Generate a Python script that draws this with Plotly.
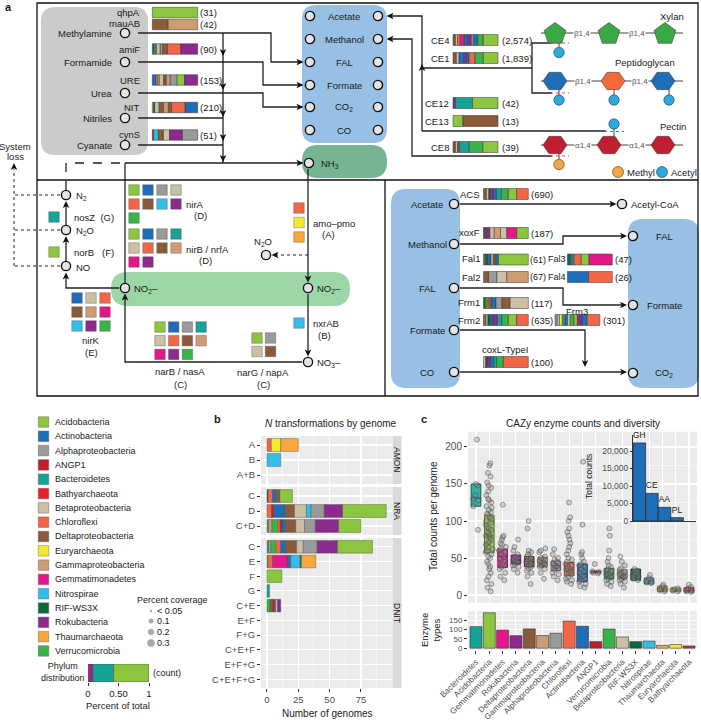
import math
import plotly.graph_objects as go

FIG_W, FIG_H = 701, 722
FONT = "Liberation Sans, Arial, Helvetica, sans-serif"
INK = "#1a1a1a"
TICK_TXT = "#4d4d4d"

# ---------------- data: phyla ----------------
phyla = ["Acidobacteria", "Actinobacteria", "Alphaproteobacteria", "ANGP1", "Bacteroidetes",
         "Bathyarchaeota", "Betaproteobacteria", "Chloroflexi", "Deltaproteobacteria",
         "Euryarchaeota", "Gammaproteobacteria", "Gemmatimonadetes", "Nitrospirae",
         "RIF-WS3X", "Rokubacteria", "Thaumarchaeota", "Verrucomicrobia"]
phylum_codes = ["Aci", "Act", "Alp", "ANG", "Bac", "Bat", "Bet", "Chl", "Del",
                "Eur", "Gam", "Gem", "Nit", "RIF", "Rok", "Tha", "Ver"]
phylum_colors = ["#8cc63f", "#1f6db6", "#9a9a9a", "#be1e2d", "#16a397", "#e8202a",
                 "#cbbfa6", "#f26645", "#8a5a3b", "#f4e830", "#cd9c72", "#e5168b",
                 "#35bde9", "#0a6b3a", "#8d2a8e", "#f8a73d", "#39b349"]

# ---------------- data: panel a, organic N genes ----------------
org_n_genes = ["qhpA", "mauAB", "amiF", "URE", "NIT", "cynS"]
org_n_counts = [31, 42, 90, 153, 210, 51]
org_n_mix = [
    [("Aci", 1.0)],
    [("Del", 0.35), ("Gam", 0.65)],
    [("Act", 0.04), ("Eur", 0.02), ("Ver", 0.03), ("Bet", 0.08), ("Alp", 0.06), ("Del", 0.10), ("Chl", 0.30), ("Rok", 0.37)],
    [("Act", 0.08), ("Alp", 0.04), ("Tha", 0.03), ("Bet", 0.10), ("Del", 0.06), ("Gam", 0.08), ("Alp", 0.15), ("Aci", 0.17), ("Rok", 0.29)],
    [("Aci", 0.03), ("RIF", 0.02), ("Bet", 0.10), ("Del", 0.10), ("Gam", 0.10), ("Del", 0.07), ("Chl", 0.30), ("Act", 0.28)],
    [("ANG", 0.03), ("Nit", 0.10), ("Del", 0.11), ("Bet", 0.14), ("Rok", 0.28), ("Alp", 0.34)],
]
substrates = ["Methylamine", "Formamide", "Urea", "Nitriles", "Cyanate"]

# ---------------- data: panel a, carbohydrate esterases ----------------
ce_genes = ["CE4", "CE1", "CE12", "CE13", "CE8"]
ce_counts = [2574, 1839, 42, 13, 39]
ce_mix = [
    [("Del", .05), ("Bet", .05), ("Chl", .06), ("Gem", .08), ("Act", .08), ("Rok", .08), ("Alp", .05), ("Act", .10), ("Ver", .12), ("Aci", .33)],
    [("Del", .07), ("Bet", .06), ("Act", .12), ("Rok", .05), ("Act", .06), ("Chl", .13), ("Ver", .18), ("Aci", .33)],
    [("Rok", .05), ("Bac", .38), ("Aci", .57)],
    [("Aci", .22), ("Del", .78)],
    [("Del", .05), ("Bet", .05), ("Del", .04), ("Bac", .22), ("Ver", .30), ("Aci", .34)],
]
pool_metabolites = ["Acetate", "Methanol", "FAL", "Formate", "CO<sub>2</sub>", "CO"]

# ---------------- data: panel a, C1 genes ----------------
c1_genes = ["ACS", "xoxF", "Fal1", "Fal2", "Fal3", "Fal4", "Frm1", "Frm2", "Frm3", "coxL-TypeI"]
c1_counts = [690, 187, 61, 67, 47, 26, 117, 635, 301, 100]
c1_mix = [
    [("Del", .06), ("Bet", .06), ("RIF", .03), ("Rok", .07), ("Act", .07), ("Bac", .11), ("Ver", .15), ("Aci", .19), ("Chl", .26)],
    [("RIF", .03), ("Del", .04), ("Rok", .07), ("Bet", .10), ("Gam", .14), ("Bet", .14), ("Gem", .22), ("Aci", .26)],
    [("Del", .05), ("RIF", .04), ("Act", .08), ("Bet", .05), ("Del", .05), ("Act", .06), ("Aci", .67)],
    [("Del", .11), ("Alp", .19), ("Bet", .22), ("Gam", .48)],
    [("RIF", .03), ("Act", .05), ("Bac", .04), ("Alp", .03), ("Chl", .15), ("Aci", .18), ("Gem", .52)],
    [("Act", .47), ("Chl", .53)],
    [("RIF", .04), ("Ver", .04), ("Tha", .03), ("Chl", .04), ("Del", .03), ("Act", .10), ("Alp", .13), ("Del", .18), ("Bet", .41)],
    [("Del", .05), ("Bet", .05), ("RIF", .04), ("Act", .07), ("Rok", .10), ("Bac", .10), ("Ver", .14), ("Aci", .19), ("Chl", .26)],
    [("Alp", .05), ("Bet", .05), ("Eur", .06), ("Bac", .06), ("Act", .06), ("Bet", .06), ("Ver", .08), ("Aci", .08), ("Rok", .10), ("Act", .12), ("Chl", .28)],
    [("Bet", .05), ("RIF", .04), ("Rok", .06), ("Act", .08), ("Bac", .06), ("Ver", .15), ("Chl", .56)],
]

# ---------------- data: panel a, nitrogen-cycle genes (phyla carrying them) ----------------
nirA_phyla = ["Aci", "Act", "Alp", "Bet", "Chl", "Del", "Nit", "Rok", "Ver"]
nirB_phyla = ["Aci", "Act", "Alp", "Bac", "Bet", "Chl", "Del", "Gam", "Gem", "Rok"]
nirK_phyla = ["Act", "Bet", "Chl", "Del", "Gam", "Gem", "Nit", "Rok", "Ver"]
narB_phyla = ["Aci", "Act", "Alp", "Bac", "Bet", "Chl", "Del", "Gam", "Gem", "Rok", "Ver"]
narG_phyla = ["Aci", "Alp", "Bet", "Del"]
nxrAB_phyla = ["Nit"]
amo_phyla = ["Chl", "Eur", "Tha"]
nosZ_phyla = ["Bac"]
norB_phyla = ["Aci"]

# ---------------- data: legend / phylum distribution ----------------
dist_phyla = ["Gem", "Rok", "Bac", "Aci"]
dist_frac = [0.03, 0.05, 0.34, 0.58]
coverage_levels = ["< 0.05", "0.1", "0.2", "0.3"]

# ---------------- data: panel b ----------------
amon_cats = ["A", "B", "A+B"]
amon_bars = [[("Chl", 3.5), ("Eur", 7.5), ("Tha", 14.0)], [("Nit", 11.0)], []]
nra_cats = ["C", "D", "C+D"]
nra_bars = [
    [("RIF", 1.0), ("Chl", 3.5), ("Act", 3.0), ("Del", 2.8), ("Aci", 10.0)],
    [("Chl", 3.7), ("ANG", 1.6), ("Act", 9.2), ("Del", 7.5), ("Bet", 9.5), ("Nit", 3.7), ("Alp", 10.5), ("Rok", 14.5), ("Aci", 35.0)],
    [("Bac", 1.3), ("Gam", 2.7), ("Ver", 4.5), ("Chl", 2.0), ("ANG", 1.5), ("Act", 3.0), ("Del", 8.0), ("Bet", 7.0), ("Alp", 8.6), ("Rok", 18.4), ("Aci", 18.0)],
]
dnit_cats = ["C", "E", "F", "G", "C+E", "E+F", "F+G", "C+E+F", "E+F+G", "C+E+F+G"]
dnit_bars = [
    [("Bac", 1.5), ("Gam", 1.5), ("Ver", 4.0), ("Chl", 4.0), ("Act", 4.0), ("Del", 8.7), ("Bet", 5.3), ("Alp", 11.0), ("Rok", 16.3), ("Aci", 27.9)],
    [("Ver", 1.0), ("Chl", 3.5), ("Gem", 11.0), ("Rok", 1.5), ("Act", 2.0), ("Nit", 7.5), ("RIF", 1.0), ("Tha", 11.5)],
    [("Aci", 12.0)],
    [("Bac", 2.0)],
    [("Ver", 2.5), ("Del", 2.0), ("ANG", 1.5), ("Act", 1.0), ("Bet", 1.5), ("Rok", 2.5)],
    [], [], [], [], [],
]
facet_names = ["AMON", "NRA", "DNIT"]

# ---------------- data: panel c ----------------
cazy_phyla = ["Bacteroidetes", "Acidobacteria", "Gemmatimonadetes", "Rokubacteria",
              "Deltaproteobacteria", "Gammaproteobacteria", "Alphaproteobacteria", "Chloroflexi",
              "Actinobacteria", "ANGP1", "Verrucomicrobia", "Betaproteobacteria", "RIF-WS3X",
              "Nitrospirae", "Thaumarchaeota", "Euryarchaeota", "Bathyarchaeota"]
cazy_q1 = [120, 57, 37, 42, 38, 38, 33, 26, 18, 30, 22, 22, 20, 15, 5, 5, 4]
cazy_median = [131, 80, 52, 47, 45, 44, 40, 35, 28, 31, 29, 28, 27, 19, 8, 7, 6]
cazy_q3 = [150, 108, 62, 54, 52, 51, 46, 44, 42, 32.5, 36, 34, 35, 23, 12, 9, 10]
cazy_genome_counts = [
    [210, 150, 148, 135, 130, 128, 120, 88],
    [178, 175, 165, 160, 152, 148, 145, 140, 135, 130, 128, 125, 120, 118, 115, 112, 110, 108, 105,
     102, 100, 98, 95, 92, 90, 88, 85, 82, 80, 80, 78, 75, 72, 70, 68, 65, 62, 60, 58, 55, 52, 50,
     45, 42, 38, 35, 30, 25, 20, 15, 10, 5],
    [122, 80, 78, 75, 70, 68, 65, 62, 60, 58, 55, 52, 50, 48, 45, 42, 40, 38, 35, 30, 25, 20],
    [75, 65, 60, 55, 52, 50, 48, 47, 46, 45, 44, 42, 40, 38, 35, 30],
    [100, 90, 60, 58, 55, 52, 50, 48, 46, 45, 44, 42, 40, 38, 36, 33, 30, 25, 15],
    [63, 60, 58, 52, 50, 48, 46, 45, 44, 43, 42, 40, 38, 35, 30, 22],
    [62, 55, 50, 48, 45, 42, 40, 39, 38, 36, 34, 30, 28, 25, 20],
    [125, 105, 100, 90, 85, 80, 75, 70, 65, 60, 55, 50, 48, 45, 42, 40, 38, 36, 35, 34, 32, 30, 28, 25, 22, 20, 18, 15],
    [180, 95, 58, 55, 50, 45, 42, 40, 38, 35, 32, 30, 28, 26, 25, 22, 20, 18, 15, 12, 10],
    [42, 32, 31, 30, 29],
    [90, 80, 60, 50, 45, 40, 38, 35, 33, 32, 30, 29, 28, 27, 26, 25, 24, 22, 20, 18, 15, 12],
    [52, 45, 40, 36, 34, 32, 30, 29, 28, 27, 26, 25, 24, 22, 20, 18, 15, 10],
    [35, 33, 30, 28, 27, 26, 25, 22, 20],
    [27, 23, 21, 20, 19, 18, 17, 16],
    [14, 12, 10, 9, 8, 7, 6, 5],
    [9, 8, 7, 7, 6, 5],
    [14, 11, 9, 7, 6, 5, 4],
]
enzyme_types = [115, 189, 97, 67, 103, 68, 80, 145, 117, 35, 102, 60, 35, 38, 15, 20, 12]
cazy_classes = ["GH", "CE", "AA", "PL"]
cazy_class_totals = [22300, 7900, 3900, 950]

# =====================================================================
COLOR = dict(zip(phylum_codes, phylum_colors))
NAME2COLOR = dict(zip(phyla, phylum_colors))

shapes, annos, traces = [], [], []


def T(x, y, s, size=9.5, xa="center", ya="middle", color=INK, angle=0, bg=None):
    d = dict(x=x, y=y, xref="x", yref="y", text=s, showarrow=False,
             xanchor=xa, yanchor=ya, font=dict(family=FONT, size=size, color=color),
             textangle=angle, borderpad=0)
    if bg:
        d["bgcolor"] = bg
    annos.append(d)


def L(pts, w=1.3, color="#222", dash=None):
    path = "M" + " L".join(f"{x:.1f},{y:.1f}" for x, y in pts)
    ln = dict(color=color, width=w)
    if dash:
        ln["dash"] = dash
    shapes.append(dict(type="path", path=path, xref="x", yref="y", line=ln, layer="above"))


def AH(x, y, d, ln=7.0, w=3.3, color="#111"):
    if d == "r":
        pts = [(x, y), (x - ln, y - w), (x - ln * 0.75, y), (x - ln, y + w)]
    elif d == "l":
        pts = [(x, y), (x + ln, y - w), (x + ln * 0.75, y), (x + ln, y + w)]
    elif d == "u":
        pts = [(x, y), (x - w, y + ln), (x, y + ln * 0.75), (x + w, y + ln)]
    else:
        pts = [(x, y), (x - w, y - ln), (x, y - ln * 0.75), (x + w, y - ln)]
    path = "M" + " L".join(f"{a:.1f},{b:.1f}" for a, b in pts) + " Z"
    shapes.append(dict(type="path", path=path, xref="x", yref="y", fillcolor=color,
                       line=dict(width=0), layer="above"))


def CIRC(x, y, r=4.6, fill="#e4e4e4", lc="#111", lw=1.4):
    shapes.append(dict(type="circle", x0=x - r, x1=x + r, y0=y - r, y1=y + r, xref="x", yref="y",
                       fillcolor=fill, line=dict(color=lc, width=lw), layer="above"))


def RR(x0, y0, x1, y1, r, color, layer="below"):
    p = (f"M{x0 + r},{y0} L{x1 - r},{y0} Q{x1},{y0} {x1},{y0 + r} L{x1},{y1 - r} "
         f"Q{x1},{y1} {x1 - r},{y1} L{x0 + r},{y1} Q{x0},{y1} {x0},{y1 - r} L{x0},{y0 + r} "
         f"Q{x0},{y0} {x0 + r},{y0} Z")
    shapes.append(dict(type="path", path=p, xref="x", yref="y", fillcolor=color,
                       line=dict(width=0), layer=layer))


def POLY(pts, fill, lc="#444", lw=0.6):
    path = "M" + " L".join(f"{a:.2f},{b:.2f}" for a, b in pts) + " Z"
    shapes.append(dict(type="path", path=path, xref="x", yref="y", fillcolor=fill,
                       line=dict(color=lc, width=lw), layer="above"))


# ---------- stacked composition bars (panel a) ----------
seg_store = {c: dict(x=[], base=[], y=[], w=[]) for c in phylum_codes}


def stack_bar(mix, x0, yc, width_px, h):
    tot = sum(f for _, f in mix)
    cum = 0.0
    for code, f in mix:
        s = seg_store[code]
        s["x"].append(f / tot * width_px)
        s["base"].append(x0 + cum / tot * width_px)
        s["y"].append(yc)
        s["w"].append(h)
        cum += f


# ---------- squares ----------
sq_x, sq_y, sq_c = [], [], []


def grid(codes, x0, y0, ncol, step=14.0):
    for i, c in enumerate(codes):
        sq_x.append(x0 + (i % ncol) * step)
        sq_y.append(y0 + (i // ncol) * step)
        sq_c.append(COLOR[c])


# =================== PANEL A frame ===================
T(4, 7, "<b>a</b>", size=11, xa="left")
shapes.append(dict(type="rect", x0=37, x1=698, y0=3, y1=396, xref="x", yref="y",
                   line=dict(color="#111", width=1.3), layer="above"))
L([(37, 180), (698, 180)], color="#111")
L([(385, 180), (385, 396)], color="#111")

# ---- top left: organic N ----
RR(41, 7, 148, 155, 14, "#cbcbcb")
sub_y = [33, 62, 93, 118, 145]
for name, y in zip(substrates, sub_y):
    T(113, y, name, xa="right")
    CIRC(125, y)
gene_label_y = [12, 23.5, 49, 80, 107, 134]
bar_y_top = [12.5, 24.5, 49, 80, 107.5, 135]
for g, ly, by, n, mix in zip(org_n_genes, gene_label_y, bar_y_top, org_n_counts, org_n_mix):
    T(141, ly, g, xa="right")
    stack_bar(mix, 152.3, by, 45.4, 10.5)
    T(199, by, f"({n:,})", xa="left")

# lines into the pool
L([(138, 33), (271, 33), (271, 62), (302, 62)]); AH(303.5, 62, "r")
L([(138, 62), (263, 62), (263, 85), (302, 85)]); AH(303.5, 85, "r")
L([(138, 93), (263, 93), (263, 107), (302, 107)]); AH(303.5, 107, "r")
L([(138, 118), (223, 118)])
L([(138, 145), (223, 145)])
L([(223, 33), (223, 163)])
for ty in [56, 90, 117, 141]:
    AH(223, ty, "d")
L([(125, 163), (302, 163)]); AH(303.5, 163, "r")
AH(223, 162, "d")
L([(125, 163), (125, 283)])
L([(66, 190), (66, 163), (125, 163)], dash="dash", w=1.3)

# ---- pool box ----
RR(302, 5, 387, 143, 14, "#97c0e4")
pool_y = [16, 39, 62, 85, 107, 130]
for name, y in zip(pool_metabolites, pool_y):
    T(344, y, name)
    CIRC(310, y)
    CIRC(378, y)
RR(302, 145, 387, 178, 16, "#77b592")
CIRC(309, 163)
T(320, 164, "NH<sub>3</sub>", xa="left")

# ---- CE bars ----
ce_y = [40, 58, 103, 121, 147]
for g, y, n, mix in zip(ce_genes, ce_y, ce_counts, ce_mix):
    T(450, y, g, xa="right")
    stack_bar(mix, 453, y, 45, 11)
    T(501, y, f"({n:,})", xa="left")

L([(422, 131), (422, 16), (388, 16)]); AH(386.5, 16, "l")
AH(422, 64, "u")
L([(422, 68), (532, 68)])
L([(552, 43), (532, 43), (532, 93), (552, 93)])
L([(422, 131), (606, 131)])
L([(552, 156), (412, 156), (412, 39), (388, 39)]); AH(386.5, 39, "l")


# ---- polysaccharides ----
def pentagon(cx, cy, r=11.5):
    return [(cx + r * math.cos(math.radians(-90 + 72 * k)), cy + r * math.sin(math.radians(-90 + 72 * k))) for k in range(5)]


def hexagon(cx, cy, rx=12.0, ry=10.0):
    return [(cx + rx * math.cos(math.radians(60 * k)), cy + ry * math.sin(math.radians(60 * k))) for k in range(6)]


# xylan
L([(541, 33), (683, 33)], w=1.0, color="#444")
L([(559, 42), (559, 47)], w=1.0, color="#444")
for cx in [555, 609, 665]:
    POLY(pentagon(cx, 34), "#3aa845")
for bx in [582, 637]:
    T(bx, 33, "β1,4", size=8, color="#555", bg="white")
T(672, 16, "Xylan")
CIRC(559, 52.5, r=5.2, fill="#29a9e1", lc="#333", lw=0.6)
L([(550, 43), (569, 43)], w=1.2, color="#e8404a", dash="dot")

# peptidoglycan
L([(541, 81), (683, 81)], w=1.0, color="#444")
for cx in [559, 614, 669]:
    L([(cx, 89), (cx, 95)], w=1.0, color="#444")
for cx, col in zip([555, 613, 663], ["#1f6db6", "#f26a3a", "#1f6db6"]):
    POLY(hexagon(cx, 81), col)
for bx in [583, 640]:
    T(bx, 81, "β1,4", size=8, color="#555", bg="white")
T(645, 62, "Peptidoglycan")
for cx in [559, 614, 669]:
    CIRC(cx, 100, r=5.2, fill="#29a9e1", lc="#333", lw=0.6)
L([(550, 93), (569, 93)], w=1.2, color="#e8404a", dash="dot")

# pectin
L([(541, 145), (683, 145)], w=1.0, color="#444")
L([(614, 129), (614, 136)], w=1.0, color="#444")
L([(559, 153), (559, 159)], w=1.0, color="#444")
for cx in [555, 609, 663]:
    POLY(hexagon(cx, 145), "#c01f31")
for bx in [583, 637]:
    T(bx, 145, "α1,4", size=8, color="#555", bg="white")
T(673, 126, "Pectin")
CIRC(614, 124, r=5.2, fill="#29a9e1", lc="#333", lw=0.6)
CIRC(559, 164.5, r=5.2, fill="#f8a73d", lc="#333", lw=0.6)
L([(604, 131.5), (624, 131.5)], w=1.2, color="#e8404a", dash="dot")
L([(550, 156), (569, 156)], w=1.2, color="#e8404a", dash="dot")
CIRC(618, 172, r=5.5, fill="#f8a73d", lc="#333", lw=0.6)
T(626, 172, "Methyl", xa="left")
CIRC(662, 172, r=5.5, fill="#29a9e1", lc="#333", lw=0.6)
T(670, 172, "Acetyl", xa="left")

# =================== bottom-left: nitrogen cycle ===================
RR(111, 272, 350, 306, 17, "#9cd6a6")
for name, y in [("N<sub>2</sub>", 195), ("N<sub>2</sub>O", 230), ("NO", 266)]:
    CIRC(66, y)
    T(75, y + 1, name, xa="left")
L([(66, 261), (66, 240)]); AH(66, 236, "u")
L([(66, 225), (66, 205)]); AH(66, 201, "u")
grid(nosZ_phyla, 54, 217, 1)
T(73, 217, "nosZ  (G)", xa="left")
grid(norB_phyla, 54, 252, 1)
T(73, 252, "norB   (F)", xa="left")
for y in [195, 230, 266]:
    L([(60, y), (14, y)], w=1.0, dash="dot")
L([(14, 266), (14, 169)], w=1.0, dash="dot")
AH(14, 163, "u")
T(15, 146, "System")
T(15, 156, "loss")

CIRC(125, 288)
T(133, 289, "NO<sub>2</sub>–", xa="left")
CIRC(308, 288)
T(316, 289, "NO<sub>2</sub>–", xa="left")
L([(119, 288), (66, 288), (66, 277)]); AH(66, 272.5, "u")

grid(nirK_phyla, 77, 298, 3)
T(91, 340, "nirK")
T(91, 352, "(E)")

CIRC(308, 362)
T(316, 363, "NO<sub>3</sub>–", xa="left")
L([(302, 362), (125, 362), (125, 298)]); AH(125, 293.5, "u")

grid(narB_phyla, 160, 327, 4, step=13.7)
T(180, 371, "narB / nasA")
T(180, 384, "(C)")
grid(narG_phyla, 257, 338, 2, step=13.5)
T(263, 372, "narG / napA")
T(263, 384, "(C)")

grid(nxrAB_phyla, 299, 323, 1)
T(312, 323, "nxrAB", xa="left")
T(324, 335, "(B)")
L([(308, 294), (308, 352)]); AH(308, 356.5, "d")

grid(amo_phyla, 299, 208, 1, step=14.5)
T(312, 223, "amo–pmo", xa="left")
T(328, 234, "(A)")
L([(308, 169), (308, 278)]); AH(308, 282.5, "d")
CIRC(266, 255)
T(263, 242, "N<sub>2</sub>O")
L([(308, 255), (277, 255)], w=1.0, dash="dot"); AH(271.5, 255, "l")

grid(nirA_phyla, 134, 190, 4)
T(185, 204, "nirA", xa="left")
T(200, 215, "(D)")
grid(nirB_phyla, 134, 234, 4)
T(185, 249, "nirB / nrfA", xa="left")
T(205, 260, "(D)")

# =================== bottom-right: C1 ===================
RR(391, 189, 460, 388, 15, "#97c0e4")
RR(628, 219, 699, 388, 15, "#97c0e4")
left_c1 = [("Acetate", 204), ("Methanol", 244), ("FAL", 288), ("Formate", 330), ("CO", 372)]
for name, y in left_c1:
    T(427, y, name)
    CIRC(454, y)
L([(460, 204), (612, 204)]); AH(616.5, 204, "r")
CIRC(622, 204)
T(630, 204, "Acetyl-CoA", xa="left")
L([(460, 244), (563, 244), (563, 236), (622, 236)]); AH(627, 236, "r")
L([(460, 288), (563, 288), (563, 305), (622, 305)]); AH(627, 305, "r")
L([(460, 330), (585, 330), (585, 362)]); AH(585, 367, "d")
L([(460, 372), (622, 372)]); AH(627, 372, "r")
for name, y in [("FAL", 236), ("Formate", 305), ("CO<sub>2</sub>", 373)]:
    CIRC(633, y)
    T(664, y, name)

c1_bar_pos = [(483.5, 194), (483.5, 233), (483.5, 259.5), (483.5, 277), (567.5, 259.5),
              (567.5, 277), (483.5, 303), (483.5, 320), (555, 320), (483.5, 362)]
c1_label_pos = [(481, 194, "right"), (481, 232, "right"), (481, 258, "right"), (481, 277, "right"),
                (567, 259, "right"), (567, 277, "right"), (481, 302, "right"), (481, 320, "right"),
                (577, 311, "center"), (505, 349, "center")]
c1_count_x = [529.5, 529.5, 529, 529, 613.5, 613.5, 529.5, 529.5, 602, 529.5]
c1_label_size = [9.5, 9.5, 9.5, 9.5, 9, 9, 9.5, 9.5, 9.5, 9.5]
c1_count_size = [9.5, 9.5, 9, 9, 9.5, 9.5, 9.5, 9.5, 9.5, 9.5]
for g, n, mix, (bx, by), (lx, ly, la), cx, ls, cs in zip(c1_genes, c1_counts, c1_mix, c1_bar_pos,
                                                        c1_label_pos, c1_count_x, c1_label_size, c1_count_size):
    stack_bar(mix, bx, by, 44.8, 11)
    T(lx, ly, g, xa=la, size=ls)
    T(cx, by, f"({n:,})", xa="left", size=cs)

# =================== phylum legend ===================
for i, (name, code) in enumerate(zip(phyla, phylum_codes)):
    y = 422 + 14.31 * i
    sq_x.append(43.5)
    sq_y.append(y)
    sq_c.append(COLOR[code])
    T(54, y, name, size=9, xa="left")

T(63, 672, "Phylum<br>distribution", size=9)
T(152, 673, "(count)", size=9, xa="left")
T(118, 705, "Percent of total", size=9.5)
T(136, 600, "Percent coverage", size=9, xa="left")
for lab, y, r in zip(coverage_levels, [611, 621, 632, 643], [1.0, 2.2, 2.8, 3.5]):
    CIRC(151, y, r=r, fill="#aaaaaa", lc="#999999", lw=0.5)
    T(156, y, lab, size=9, xa="left")

# ---- traces for panel a overlay ----
for code, col in zip(phylum_codes, phylum_colors):
    s = seg_store[code]
    if s["x"]:
        traces.append(go.Bar(orientation="h", x=s["x"], base=s["base"], y=s["y"], width=s["w"],
                             marker=dict(color=col, line=dict(color="#333", width=0.5)),
                             xaxis="x", yaxis="y", hoverinfo="skip", showlegend=False))
traces.append(go.Scatter(x=sq_x, y=sq_y, mode="markers",
                         marker=dict(symbol="square", size=10.5, color=sq_c, line=dict(color="#555", width=0.4)),
                         xaxis="x", yaxis="y", hoverinfo="skip", showlegend=False))

# phylum distribution bar (own small axis)
cum = 0.0
for code, f in zip(dist_phyla, dist_frac):
    traces.append(go.Bar(orientation="h", x=[f], base=[cum], y=[0], width=[1.0],
                         marker=dict(color=COLOR[code], line=dict(color="#444", width=0.5)),
                         xaxis="x8", yaxis="y8", hoverinfo="skip", showlegend=False))
    cum += f

# =================== PANEL B ===================
T(213, 419, "<b>b</b>", size=11, xa="left")
T(331, 423, "<i>N</i> transformations by genome", size=10)
T(327, 713, "Number of genomes", size=10)

facet_axes = [("x2", "y2"), ("x3", "y3"), ("x4", "y4")]
facet_px = [(436, 484), (487, 535), (538, 688)]
for (xa, ya), cats, bars in zip(facet_axes, [amon_cats, nra_cats, dnit_cats], [amon_bars, nra_bars, dnit_bars]):
    per = {}
    for i, segs in enumerate(bars):
        c0 = 0.0
        for code, v in segs:
            d = per.setdefault(code, dict(x=[], base=[], y=[]))
            d["x"].append(v)
            d["base"].append(c0)
            d["y"].append(i)
            c0 += v
    for code, d in per.items():
        traces.append(go.Bar(orientation="h", x=d["x"], base=d["base"], y=d["y"], width=0.86,
                             marker=dict(color=COLOR[code], line=dict(color="rgba(70,70,70,0.75)", width=0.5)),
                             xaxis=xa, yaxis=ya, hoverinfo="skip", showlegend=False))
for (xa, ya), name, (t, b) in zip(facet_axes, facet_names, facet_px):
    shapes.append(dict(type="rect", xref=f"{xa} domain", yref=f"{ya} domain", x0=0, x1=1, y0=0, y1=1,
                       fillcolor="#ebebeb", line=dict(width=0), layer="below"))
    shapes.append(dict(type="rect", xref="x", yref="y", x0=392.5, x1=401.5, y0=t, y1=b,
                       fillcolor="#d9d9d9", line=dict(width=0), layer="above"))
    T(397, (t + b) / 2, name, size=8.5, angle=90, color="#1a1a1a")

# =================== PANEL C ===================
T(420, 419, "<b>c</b>", size=11, xa="left")
T(583, 423, "CAZy enzyme counts and diversity", size=10)
T(433, 516, "Total counts per genome", size=10, angle=-90)
T(424, 630, "Enzyme", size=9.5, angle=-90)
T(435.5, 630, "types", size=9.5, angle=-90)
T(589, 477, "Total counts", size=8.5, angle=-90)


def darker(hx, k=0.6):
    r, g, b = int(hx[1:3], 16), int(hx[3:5], 16), int(hx[5:7], 16)
    return f"rgb({int(r * k)},{int(g * k)},{int(b * k)})"


def rgba(hx, a):
    r, g, b = int(hx[1:3], 16), int(hx[3:5], 16), int(hx[5:7], 16)
    return f"rgba({r},{g},{b},{a})"


for i, name in enumerate(cazy_phyla):
    col = NAME2COLOR[name]
    traces.append(go.Box(x=[i], q1=[cazy_q1[i]], median=[cazy_median[i]], q3=[cazy_q3[i]],
                         lowerfence=[cazy_q1[i]], upperfence=[cazy_q3[i]], width=0.72,
                         fillcolor=rgba(col, 0.85), line=dict(color=darker(col), width=1.0),
                         boxpoints=False, whiskerwidth=0, xaxis="x5", yaxis="y5",
                         hoverinfo="skip", showlegend=False))
for i, name in enumerate(cazy_phyla):
    vals = cazy_genome_counts[i]
    traces.append(go.Box(x=[i] * len(vals), y=vals, boxpoints="all", jitter=0.85, pointpos=0,
                         width=0.72, fillcolor="rgba(0,0,0,0)", line=dict(width=0, color="rgba(0,0,0,0)"),
                         marker=dict(size=5, color="rgba(140,140,140,0.35)",
                                     line=dict(color="rgba(60,60,60,0.75)", width=0.6)),
                         xaxis="x5", yaxis="y5", hoverinfo="skip", showlegend=False))
traces.append(go.Bar(x=list(range(len(cazy_phyla))), y=enzyme_types, width=0.9,
                     marker=dict(color=[NAME2COLOR[n] for n in cazy_phyla], line=dict(color="#333", width=0.6)),
                     xaxis="x6", yaxis="y6", hoverinfo="skip", showlegend=False))
traces.append(go.Bar(x=list(range(len(cazy_classes))), y=cazy_class_totals, width=1.0,
                     marker=dict(color="#1f6db6", line=dict(color="#222", width=0.7)),
                     text=cazy_classes, textposition="outside", cliponaxis=False,
                     textfont=dict(family=FONT, size=8.5, color=INK),
                     xaxis="x7", yaxis="y7", hoverinfo="skip", showlegend=False))
for xa, ya in [("x5", "y5"), ("x6", "y6")]:
    shapes.append(dict(type="rect", xref=f"{xa} domain", yref=f"{ya} domain", x0=0, x1=1, y0=0, y1=1,
                       fillcolor="#ebebeb", line=dict(width=0), layer="below"))


# =================== LAYOUT ===================
def dx(a, b):
    return [a / FIG_W, b / FIG_W]


def dy(top, bottom):
    return [1 - bottom / FIG_H, 1 - top / FIG_H]


tickfont = dict(family=FONT, size=9.5, color=TICK_TXT)
layout = dict(
    width=FIG_W, height=FIG_H, margin=dict(l=0, r=0, t=0, b=0, pad=0, autoexpand=False),
    paper_bgcolor="white", plot_bgcolor="rgba(0,0,0,0)",
    barmode="overlay", boxmode="overlay", showlegend=False, hovermode=False,
    font=dict(family=FONT, size=10, color=INK),
    xaxis=dict(domain=[0, 1], range=[0, FIG_W], visible=False, fixedrange=True, automargin=False),
    yaxis=dict(domain=[0, 1], range=[FIG_H, 0], visible=False, fixedrange=True, automargin=False),
)

bx_common = dict(domain=dx(261, 392), range=[-4.75, 99.75], tickmode="array", tickvals=[0, 25, 50, 75],
                 showgrid=True, gridcolor="white", gridwidth=1.1, zeroline=False,
                 minor=dict(tickmode="array", tickvals=[12.5, 37.5, 62.5, 87.5], showgrid=True,
                            gridcolor="white", gridwidth=0.5),
                 tickfont=tickfont, fixedrange=True, automargin=False)
for k, (xa, ya), cats, (t, b) in zip([2, 3, 4], facet_axes, [amon_cats, nra_cats, dnit_cats], facet_px):
    xd = dict(bx_common, anchor=ya)
    if k == 4:
        xd.update(ticks="outside", ticklen=3, tickcolor="#333", showticklabels=True)
    else:
        xd.update(ticks="", showticklabels=False)
    layout[f"xaxis{k}"] = xd
    n = len(cats)
    layout[f"yaxis{k}"] = dict(domain=dy(t, b), anchor=xa, range=[n - 0.4, -0.6], tickmode="array",
                               tickvals=list(range(n)), ticktext=cats, ticks="outside", ticklen=3,
                               tickcolor="#333", showgrid=True, gridcolor="white", gridwidth=1.1,
                               zeroline=False, tickfont=tickfont, fixedrange=True, automargin=False)

cx_common = dict(domain=dx(468, 697), range=[-0.6, 16.6], tickmode="array", tickvals=list(range(17)),
                 showgrid=True, gridcolor="white", gridwidth=1.1, zeroline=False, fixedrange=True,
                 automargin=False)
layout["xaxis5"] = dict(cx_common, anchor="y5", showticklabels=False, ticks="")
layout["yaxis5"] = dict(domain=dy(431.8, 602.8), anchor="x5", range=[-10.5, 220.5], tickmode="array",
                        tickvals=[0, 50, 100, 150, 200], ticks="outside", ticklen=3, tickcolor="#333",
                        showgrid=True, gridcolor="white", gridwidth=1.1, zeroline=False,
                        minor=dict(tickmode="array", tickvals=[25, 75, 125, 175], showgrid=True,
                                   gridcolor="white", gridwidth=0.5),
                        tickfont=dict(family=FONT, size=10, color=TICK_TXT), fixedrange=True,
                        automargin=False)
layout["xaxis6"] = dict(cx_common, anchor="y6", ticktext=cazy_phyla, tickangle=-45, ticks="outside",
                        ticklen=3, tickcolor="#333", tickfont=dict(family=FONT, size=8.2, color=TICK_TXT))
layout["yaxis6"] = dict(domain=dy(611, 650), anchor="x6", range=[-9.45, 198.5], tickmode="array",
                        tickvals=[0, 50, 100, 150], ticks="outside", ticklen=3, tickcolor="#333",
                        showgrid=True, gridcolor="white", gridwidth=1.1, zeroline=False,
                        minor=dict(tickmode="array", tickvals=[25, 75, 125, 175], showgrid=True,
                                   gridcolor="white", gridwidth=0.5),
                        tickfont=dict(family=FONT, size=8, color=TICK_TXT), fixedrange=True,
                        automargin=False)
layout["xaxis7"] = dict(domain=dx(633, 696), anchor="y7", range=[-0.5, 4.5], showticklabels=False,
                        ticks="", showgrid=False, zeroline=False, showline=True, linecolor="#333",
                        linewidth=1, fixedrange=True, automargin=False)
layout["yaxis7"] = dict(domain=dy(435, 521), anchor="x7", range=[0, 24570], tickmode="array",
                        tickvals=[0, 5000, 10000, 15000, 20000],
                        ticktext=["0", "5,000", "10,000", "15,000", "20,000"], ticks="outside",
                        ticklen=2, tickcolor="#333", showgrid=False, zeroline=False, showline=True,
                        linecolor="#333", linewidth=1,
                        tickfont=dict(family=FONT, size=8.5, color=TICK_TXT), fixedrange=True,
                        automargin=False)
layout["xaxis8"] = dict(domain=dx(88, 149), anchor="y8", range=[0, 1], tickmode="array",
                        tickvals=[0, 0.5, 1], ticktext=["0", "0.50", "1"], ticks="outside", ticklen=3,
                        tickcolor="#333", showgrid=False, zeroline=False,
                        tickfont=dict(family=FONT, size=9.5, color=INK), fixedrange=True,
                        automargin=False)
layout["yaxis8"] = dict(domain=dy(664, 682), anchor="x8", range=[-0.5, 0.5], visible=False,
                        fixedrange=True, automargin=False)

layout["shapes"] = shapes
layout["annotations"] = annos

fig = go.Figure(data=traces, layout=layout)
fig.write_html("out.html", config={"displayModeBar": False, "staticPlot": True},
               post_script="document.body.style.margin='0px';")
